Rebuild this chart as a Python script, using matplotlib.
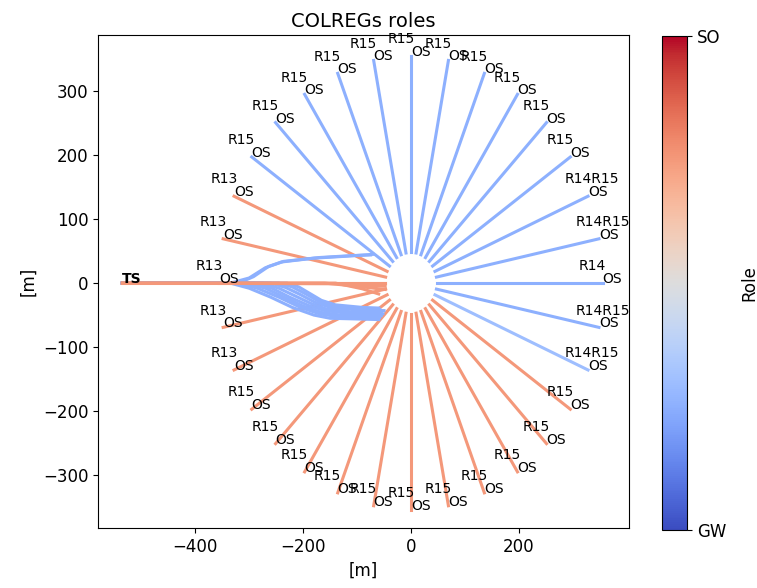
import numpy as np
import matplotlib
matplotlib.use("Agg")
from matplotlib import pyplot as plt

# own ships: bearing of start point [deg], role value, rule label
os_angles = [0, 11.25, 22.5, 33.75, 45, 56.25, 67.5, 78.75, 90, 101.25, 112.5,
             123.75, 135, 146.25, 157.5, 168.75, 180, 191.25, 202.5, 213.75,
             225, 236.25, 247.5, 258.75, 270, 281.25, 292.5, 303.75, 315,
             326.25, 337.5, 348.75]
os_roles = [0.25, 0.25, 0.25, 0.25, 0.25, 0.25, 0.25, 0.25, 0.25, 0.25, 0.25,
            0.25, 0.25, 0.25, 0.75, 0.75, 0.75, 0.75, 0.75, 0.75,
            0.75, 0.75, 0.75, 0.75, 0.75, 0.75, 0.75, 0.75, 0.75,
            0.75, 0.3, 0.25]
os_rules = ['R14', 'R14R15', 'R14R15', 'R15', 'R15', 'R15', 'R15', 'R15', 'R15',
            'R15', 'R15', 'R15', 'R15', 'R15', 'R13', 'R13', 'R13', 'R13',
            'R13', 'R15', 'R15', 'R15', 'R15', 'R15', 'R15', 'R15', 'R15',
            'R15', 'R15', 'R15', 'R14R15', 'R14R15']
r_start = 355
r_end = 48

# target ship trajectories (waypoints)
ts_start = (-535, 0)
ts_gw_paths = [
    [(-335, 0), (-300, 8), (-270, 24), (-240, 33), (-180, 39), (-120, 42), (-70, 45)],
    [(-320, 0), (-292, 10), (-264, 26), (-236, 34), (-170, 40), (-110, 43), (-75, 44)],
    [(-335, 0), (-300, -8), (-260, -22), (-220, -38), (-180, -50), (-150, -55), (-60, -57)],
    [(-320, 0), (-285, -8), (-245, -22), (-205, -38), (-170, -48), (-140, -52), (-58, -54)],
    [(-305, 0), (-270, -8), (-235, -22), (-200, -36), (-165, -46), (-130, -50), (-55, -51)],
    [(-290, 0), (-258, -8), (-225, -22), (-190, -35), (-160, -43), (-120, -47), (-52, -48)],
    [(-275, 0), (-245, -8), (-215, -20), (-185, -32), (-155, -41), (-110, -45), (-55, -46)],
    [(-260, 0), (-232, -7), (-205, -18), (-178, -30), (-150, -38), (-100, -42), (-50, -43)],
    [(-245, 0), (-220, -6), (-195, -17), (-172, -28), (-145, -36), (-95, -40), (-58, -41)],
    [(-230, 0), (-208, -6), (-188, -16), (-166, -27), (-140, -34), (-90, -38), (-60, -39)],
]
ts_so_paths = [
    [(-48, 0)],
    [(-160, 0), (-100, -5), (-48, -10)],
    [(-140, 0), (-90, -9), (-60, -17)],
    [(-130, -1), (-48, -5)],
]

fig = plt.figure(figsize=(7.57, 5.88), dpi=100)
ax = fig.add_axes([0.1295, 0.102, 0.7015, 0.8385])
cax = fig.add_axes([0.8745, 0.0986, 0.033, 0.840])
cmap = plt.cm.coolwarm

for ang, role, rule in zip(os_angles, os_roles, os_rules):
    a = np.deg2rad(ang)
    x0, y0 = r_start * np.cos(a), r_start * np.sin(a)
    x1, y1 = r_end * np.cos(a), r_end * np.sin(a)
    ax.plot([x0, x1], [y0, y1], color=cmap(role), lw=2.2)
    ax.text(x0, y0, 'OS', fontsize=10)
    ax.text(x0 - 44, y0 + 20, rule, fontsize=10)

for path in ts_gw_paths:
    xs, ys = zip(*([ts_start] + path))
    ax.plot(xs, ys, color=cmap(0.25), lw=2.2)
for path in ts_so_paths:
    xs, ys = zip(*([ts_start] + path))
    ax.plot(xs, ys, color=cmap(0.75), lw=2.2)
ax.text(ts_start[0], ts_start[1], 'TS', fontsize=10, fontweight='bold')

ax.set_xlim(-580, 404)
ax.set_ylim(-383, 388)
ax.set_xticks([-400, -200, 0, 200])
ax.set_yticks([-300, -200, -100, 0, 100, 200, 300])
ax.tick_params(labelsize=12)
ax.set_xlabel('[m]', fontsize=12)
ax.set_ylabel('[m]', fontsize=12)
ax.set_title('COLREGs roles', fontsize=14)

sm = plt.cm.ScalarMappable(cmap=cmap, norm=plt.Normalize(0, 1))
cb = fig.colorbar(sm, cax=cax, ticks=[0, 1])
cb.ax.set_yticklabels(['GW', 'SO'], fontsize=12)
cb.set_label('Role', fontsize=12, labelpad=10)

fig.savefig('out.png', dpi=100)
